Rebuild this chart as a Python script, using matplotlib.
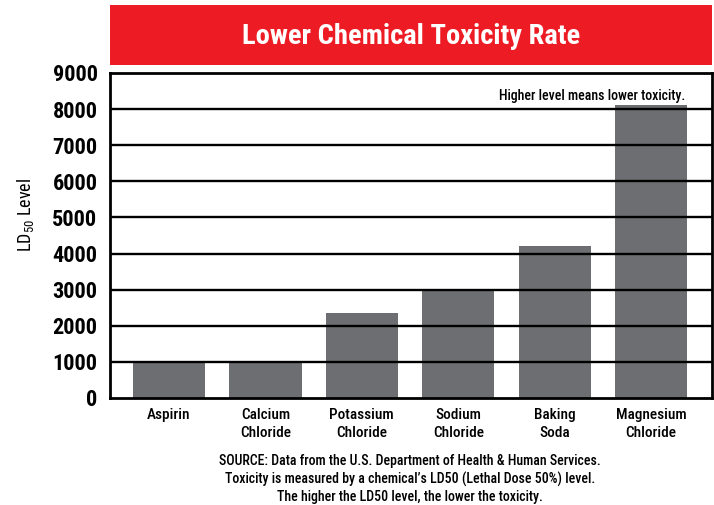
import matplotlib
matplotlib.use("Agg")
import matplotlib.pyplot as plt
from matplotlib.patches import Rectangle

# chart data
chemicals = ["Aspirin", "Calcium\nChloride", "Potassium\nChloride",
             "Sodium\nChloride", "Baking\nSoda", "Magnesium\nChloride"]
ld50 = [1000, 1000, 2350, 3000, 4220, 8100]
yticks = [0, 1000, 2000, 3000, 4000, 5000, 6000, 7000, 8000, 9000]

plt.rcParams['font.family'] = ['Roboto Condensed', 'DejaVu Sans']
plt.rcParams['mathtext.fontset'] = 'custom'
plt.rcParams['mathtext.rm'] = 'Roboto Condensed'
plt.rcParams['mathtext.it'] = 'Roboto Condensed'
plt.rcParams['mathtext.default'] = 'regular'

fig = plt.figure(figsize=(7.14, 5.05), dpi=100)

# red title banner
fig.patches.append(Rectangle((110 / 714, 1 - 65 / 505), 602 / 714, 60 / 505,
                             transform=fig.transFigure, facecolor='#ED1C24',
                             edgecolor='none'))
fig.text(411 / 714, 1 - 36 / 505, "Lower Chemical Toxicity Rate", color='white',
         fontsize=20.5, fontweight='bold', ha='center', va='center')

ax = fig.add_axes([110 / 714, 1 - 398 / 505, 602 / 714, 325 / 505])
x = range(len(chemicals))
ax.bar(x, ld50, width=0.75, color='#6D6E71', zorder=1)

# gridlines sit on top of the bars
for t in yticks[1:-1]:
    ax.axhline(t, color='black', linewidth=1.7, zorder=3)

ax.set_xlim(-0.61, 5.63)
ax.set_ylim(0, 9000)
ax.set_yticks(yticks)
ax.set_yticklabels([str(t) for t in yticks], fontsize=16, fontweight='bold')
ax.set_xticks(list(x))
ax.set_xticklabels(chemicals, fontsize=11, fontweight=500, linespacing=1.35)
ax.tick_params(axis='both', length=0)
ax.tick_params(axis='x', pad=7)
ax.tick_params(axis='y', pad=9)
for s in ax.spines.values():
    s.set_linewidth(2)
    s.set_zorder(4)

ax.text(0.955, 0.93, "Higher level means lower toxicity.", transform=ax.transAxes,
        ha='right', va='center', fontsize=10, fontweight=500)

fig.text(25 / 714, 1 - 215 / 505, "LD$_{50}$ Level", rotation=90,
         ha='center', va='center', fontsize=13)

fig.text(410 / 714, 1 - 479 / 505,
         "SOURCE: Data from the U.S. Department of Health & Human Services.\n"
         "Toxicity is measured by a chemical\u2019s LD50 (Lethal Dose 50%) level.\n"
         "The higher the LD50 level, the lower the toxicity.",
         ha='center', va='center', fontsize=10, fontweight=500, linespacing=1.3)

plt.savefig("out.png", dpi=100)
